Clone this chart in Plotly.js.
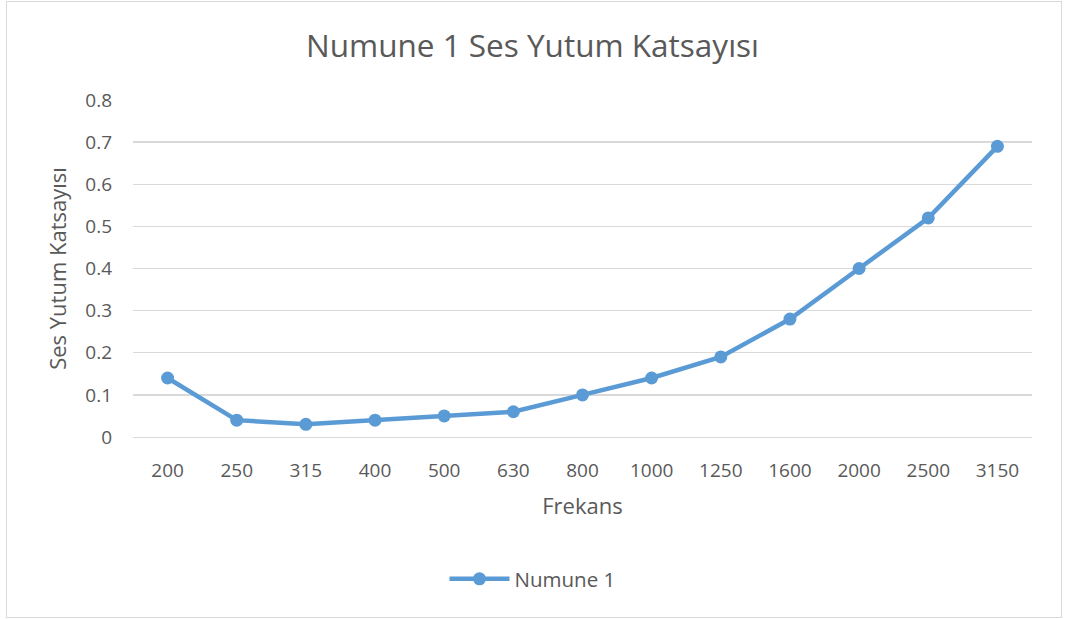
<!DOCTYPE html>
<html>
<head>
<meta charset="utf-8">
<script src="https://cdn.plot.ly/plotly-3.0.1.min.js"></script>
<style>
  html, body { margin: 0; padding: 0; background: #fff; }
  #wrap { position: relative; width: 1065px; height: 619px; }
  #chart { position: absolute; left: 0; top: 0; width: 1065px; height: 619px; }
  #frame { position: absolute; left: 6px; top: 1px; width: 1054px; height: 615px; border: 1px solid #d9d9d9; pointer-events: none; }
</style>
</head>
<body>
<div id="wrap">
  <div id="chart"></div>
  <div id="frame"></div>
</div>
<script>
const categories = ["200", "250", "315", "400", "500", "630", "800", "1000", "1250", "1600", "2000", "2500", "3150"];
const numune1 = [0.14, 0.04, 0.03, 0.04, 0.05, 0.06, 0.10, 0.14, 0.19, 0.28, 0.40, 0.52, 0.69];
const yTicks = [0, 0.1, 0.2, 0.3, 0.4, 0.5, 0.6, 0.7, 0.8];
const yTickText = ["0", "0.1", "0.2", "0.3", "0.4", "0.5", "0.6", "0.7", "0.8"];

const FONT = "Open Sans, Liberation Sans, sans-serif";
const TXT = "#595959";

const trace = {
  x: categories,
  y: numune1,
  type: "scatter",
  mode: "lines+markers",
  name: "Numune 1",
  line: { color: "#5B9BD5", width: 4.5 },
  marker: { color: "#5B9BD5", size: 13 }
};

const layout = {
  width: 1065,
  height: 619,
  paper_bgcolor: "#fff",
  plot_bgcolor: "#fff",
  margin: { l: 133, r: 33, t: 100, b: 182 },
  font: { family: FONT, color: TXT, size: 19 },
  title: {
    text: "Numune 1 Ses Yutum Katsayısı",
    font: { family: FONT, size: 31.5, color: TXT },
    x: 0.5, xanchor: "center",
    y: 1 - 46 / 619, yanchor: "middle", yref: "container"
  },
  xaxis: {
    type: "category",
    title: { text: "Frekans", font: { family: FONT, size: 22, color: TXT }, standoff: 16 },
    tickfont: { family: FONT, size: 19, color: TXT },
    ticklabelstandoff: 16,
    showgrid: false,
    showline: true, linecolor: "#d9d9d9", linewidth: 1.3,
    ticks: "", ticklen: 0,
    range: [-0.5, 12.5],
    zeroline: false,
    automargin: false
  },
  yaxis: {
    title: { text: "Ses Yutum Katsayısı", font: { family: FONT, size: 22, color: TXT }, standoff: 12 },
    tickfont: { family: FONT, size: 19, color: TXT },
    ticklabelstandoff: 20,
    range: [0, 0.8],
    tickvals: yTicks,
    ticktext: yTickText,
    showgrid: true, gridcolor: "#d9d9d9", gridwidth: 1.3,
    zeroline: false,
    showline: false,
    ticks: "", ticklen: 0,
    automargin: false
  },
  showlegend: true,
  legend: {
    orientation: "h",
    x: 0.5, xanchor: "center", xref: "container",
    y: 1 - 579 / 619, yanchor: "middle", yref: "container",
    font: { family: FONT, size: 20.5, color: TXT },
    itemwidth: 60
  }
};

Plotly.newPlot("chart", [trace], layout, { displayModeBar: false, staticPlot: true });
</script>
</body>
</html>
